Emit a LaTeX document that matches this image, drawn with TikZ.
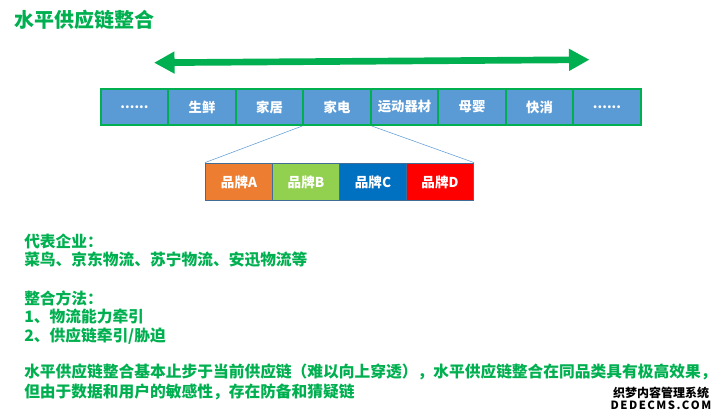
\documentclass[tikz,border=0pt]{standalone}
\usepackage{fontspec}
\setmainfont{Noto Sans CJK SC}
\usepackage{tikz}
\usetikzlibrary{arrows.meta}
\definecolor{lvse}{HTML}{00B050}
\definecolor{lanse}{HTML}{5B9BD5}
\tikzset{
    lei/.style={draw=lvse, line width=1.5pt, fill=lanse, text=white, font=\bfseries\fontsize{10}{12}\selectfont,
        minimum width=50.6pt, minimum height=27pt, inner sep=0pt},
    pai/.style={draw=lanse!70!black, line width=0.75pt, text=white, font=\bfseries\fontsize{10.2}{12}\selectfont,
        minimum width=50.4pt, minimum height=28.3pt, inner sep=0pt},
    wenzi/.style={anchor=west, text=lvse, inner sep=0pt, font=\bfseries\fontsize{11.8}{14}\selectfont},
}
\begin{document}
\begin{tikzpicture}[x=0.75pt, y=-0.75pt]
    \useasboundingbox (0,0) rectangle (721,420);
    \path (14,20) node [wenzi, font=\bfseries\fontsize{15}{18}\selectfont] (biaoti) {水平供应链整合};
    % arrow
    \coordinate (zuo) at (154,62.7);
    \coordinate (you) at (589.5,59.7);
    \draw [{Triangle[length=15.4pt,width=15.6pt]}-{Triangle[length=15.4pt,width=15.6pt]}, lvse, line width=5pt] (zuo) -- (you);
    % categories
    \path (134.5,107) node [lei] (c1) {......};
    \path (202,107) node [lei] (c2) {生鲜};
    \path (269.5,107) node [lei] (c3) {家居};
    \path (337,107) node [lei] (c4) {家电};
    \path (404.5,107) node [lei] (c5) {运动器材};
    \path (472,107) node [lei] (c6) {母婴};
    \path (539.5,107) node [lei] (c7) {快消};
    \path (607,107) node [lei] (c8) {......};
    % brands
    \path (239,182) node [pai, fill={rgb,255:red,237;green,125;blue,49}] (a) {品牌A};
    \path (306,182) node [pai, fill={rgb,255:red,146;green,208;blue,80}] (b) {品牌B};
    \path (373,182) node [pai, fill={rgb,255:red,0;green,112;blue,192}] (c) {品牌C};
    \path (440,182) node [pai, fill=red] (d) {品牌D};
    \draw [lanse] (c4.south west) -- (a.north west);
    \draw [lanse] (c4.south east) -- (d.north east);
    % text
    \path (24,241) node [wenzi] (t1) {代表企业：};
    \path (24,260) node [wenzi] (t2) {菜鸟、京东物流、苏宁物流、安迅物流等};
    \path (24,298) node [wenzi] (t3) {整合方法：};
    \path (24,317) node [wenzi] (t4) {1、物流能力牵引};
    \path (24,336) node [wenzi] (t5) {2、供应链牵引/胁迫};
    \path (24,372) node [wenzi] (t6) {水平供应链整合基本止步于当前供应链（难以向上穿透），水平供应链整合在同品类具有极高效果，};
    \path (24,392) node [wenzi] (t7) {但由于数据和用户的敏感性，存在防备和猜疑链};
    % watermark
    \path (661,392.5) node [inner sep=0pt, font=\bfseries\fontsize{9}{11}\selectfont] (w1) {织梦内容管理系统};
    \path (661,405) node [inner sep=0pt, font=\bfseries\fontsize{8.5}{11}\selectfont] (w2) {D\kern1.1pt E\kern1.1pt D\kern1.1pt E\kern1.1pt C\kern1.1pt M\kern1.1pt S\kern1.1pt .\kern1.1pt C\kern1.1pt O\kern1.1pt M};
\end{tikzpicture}
\end{document}
